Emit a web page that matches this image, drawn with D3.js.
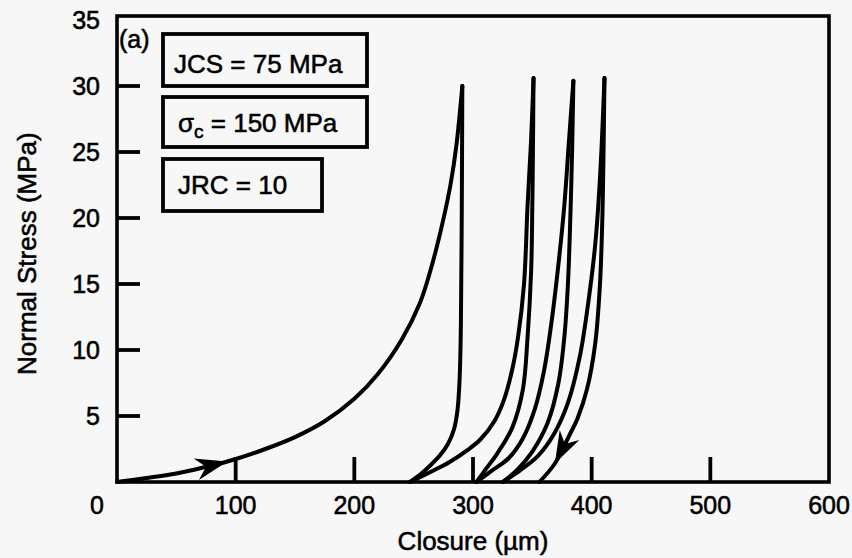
<!DOCTYPE html>
<html>
<head>
<meta charset="utf-8">
<script src="https://cdn.jsdelivr.net/npm/d3@7"></script>
<style>
  html, body { margin: 0; padding: 0; background: #f7f7f7; }
  svg { display: block; }
  text { font-family: "Liberation Sans", Arial, Helvetica, sans-serif; fill: #000; stroke: #000; stroke-width: 0.55px; }
</style>
</head>
<body>
<svg id="chart" width="852" height="558"></svg>
<script>
// Axis ticks
const closureTicks = [0, 100, 200, 300, 400, 500, 600];
const stressTicks = [0, 5, 10, 15, 20, 25, 30, 35];

// Loading / unloading cycles: [closure (µm), normal stress (MPa)]
const load1 = [[0,0],[25,0.3],[50,0.65],[75,1.15],[93,1.55],[125,2.5],[150,3.4],[175,4.6],[200,6.3],[220,8.2],[240,10.8],[255,13.5],[265,16.3],[274,19.5],[281,22.5],[286,25.5],[291,30]];
const unload1 = [[291,30],[290.5,20],[289.8,12],[288.8,8],[287,5.5],[284,4],[279,2.9],[272,2.0],[264,1.25],[256,0.6],[247,0]];
const load2 = [[247,0],[265,0.8],[280,1.5],[295,2.4],[306,3.2],[318,4.6],[326,6.2],[333,8.5],[338,11],[343,15],[346,21],[349,26],[351,30.6]];
const unload2 = [[351,30.6],[350.5,25],[350,21],[349,16],[346,11],[342,7],[333,4.1],[320,2.1],[311,1],[303,0]];
const load3 = [[303,0],[315,0.8],[330,1.8],[342,3.3],[352,5.5],[360,8.5],[366,12],[372,16.5],[377,21],[381,26],[384.6,30.4]];
const unload3 = [[384.6,30.4],[383.5,25],[382,20],[380,15],[377,11],[372,7.5],[363,4.5],[350,2.3],[337,0.9],[325,0]];
const load4 = [[325,0],[340,0.9],[355,2],[368,3.6],[380,6],[390,9.5],[397,13.5],[403,18],[407,23],[410.8,30.6]];
const unload4 = [[410.8,30.6],[410,25],[409,20],[407,15],[403,10.5],[396,7],[388,4.8],[381,3.5],[369,1.4],[356,0]];

const cycles = [load1, unload1, load2, unload2, load3, unload3, load4, unload4];

// Direction arrows: series and index of the point the arrow tip sits on
const arrows = [
  { series: load1, at: 4 },
  { series: unload4, at: 8 }
];

// Parameter boxes
const paramLabels = ["JCS = 75 MPa", "σc = 150 MPa", "JRC = 10"];

const svg = d3.select("#chart");

const x = d3.scaleLinear().domain([0, 600]).range([117, 829]);
const y = d3.scaleLinear().domain([0, 35]).range([482, 20]);

const frameTop = y(35) - 4;

// Plot frame
svg.append("rect")
  .attr("x", x(0)).attr("y", frameTop)
  .attr("width", x(600) - x(0)).attr("height", y(0) - frameTop)
  .attr("fill", "none").attr("stroke", "#000").attr("stroke-width", 3.6);

// Y ticks (inward) and labels
const yAxis = svg.append("g");
yAxis.selectAll("line").data(stressTicks.filter(d => d > 0 && d < 35)).join("line")
  .attr("x1", x(0)).attr("x2", x(0) + 23)
  .attr("y1", d => y(d)).attr("y2", d => y(d))
  .attr("stroke", "#000").attr("stroke-width", 3.8);
yAxis.selectAll("text").data(stressTicks.filter(d => d > 0)).join("text")
  .attr("x", 100).attr("y", d => y(d)).attr("dy", "0.36em")
  .attr("text-anchor", "end").attr("font-size", 25)
  .text(d => d);

// X ticks (inward) and labels
const xAxis = svg.append("g");
xAxis.selectAll("line").data(closureTicks.filter(d => d > 0 && d < 600)).join("line")
  .attr("x1", d => x(d)).attr("x2", d => x(d))
  .attr("y1", y(0)).attr("y2", y(0) - 25)
  .attr("stroke", "#000").attr("stroke-width", 3.8);
xAxis.selectAll("text").data(closureTicks).join("text")
  .attr("x", d => d === 0 ? x(d) - 20 : x(d)).attr("y", 514)
  .attr("text-anchor", "middle").attr("font-size", 25)
  .text(d => d);

// Axis titles
svg.append("text")
  .attr("x", x(300)).attr("y", 550)
  .attr("text-anchor", "middle").attr("font-size", 26)
  .text("Closure (µm)");
svg.append("text")
  .attr("transform", `translate(36, ${y(17.3)}) rotate(-90)`)
  .attr("text-anchor", "middle").attr("font-size", 26)
  .text("Normal Stress (MPa)");

// Panel tag
svg.append("text").attr("x", 119).attr("y", 48).attr("font-size", 25).text("(a)");

// Parameter boxes
const boxes = [
  { x: 163, y: 34, w: 204, h: 52, tx: 174, ty: 73 },
  { x: 163, y: 97, w: 204, h: 50, tx: 178, ty: 132 },
  { x: 163, y: 159, w: 159, h: 52, tx: 178, ty: 194 }
];
boxes.forEach((b, i) => {
  svg.append("rect")
    .attr("x", b.x).attr("y", b.y).attr("width", b.w).attr("height", b.h)
    .attr("fill", "none").attr("stroke", "#000").attr("stroke-width", 3.8);
  const t = svg.append("text").attr("x", b.tx).attr("y", b.ty).attr("font-size", 26);
  if (i === 1) {
    t.append("tspan").text("σ");
    t.append("tspan").attr("font-size", 19).attr("dy", 6).text("c");
    t.append("tspan").attr("dy", -6).text(" = 150 MPa");
  } else {
    t.text(paramLabels[i]);
  }
});

// Stress–closure curves
const line = d3.line()
  .x(d => x(d[0])).y(d => y(d[1]))
  .curve(d3.curveCatmullRom.alpha(0.5));

svg.append("g").selectAll("path").data(cycles).join("path")
  .attr("d", line)
  .attr("fill", "none").attr("stroke", "#000")
  .attr("stroke-width", 4).attr("stroke-linejoin", "round").attr("stroke-linecap", "round");

// Arrowheads along the curves
arrows.forEach(a => {
  const tip = a.series[a.at], prev = a.series[a.at - 1];
  const tx = x(tip[0]), ty = y(tip[1]);
  const ang = Math.atan2(ty - y(prev[1]), tx - x(prev[0])) * 180 / Math.PI;
  svg.append("path")
    .attr("d", "M0,0 L-32,-11 L-22,0 L-32,11 Z")
    .attr("transform", `translate(${tx},${ty}) rotate(${ang})`)
    .attr("fill", "#000");
});
</script>
</body>
</html>
